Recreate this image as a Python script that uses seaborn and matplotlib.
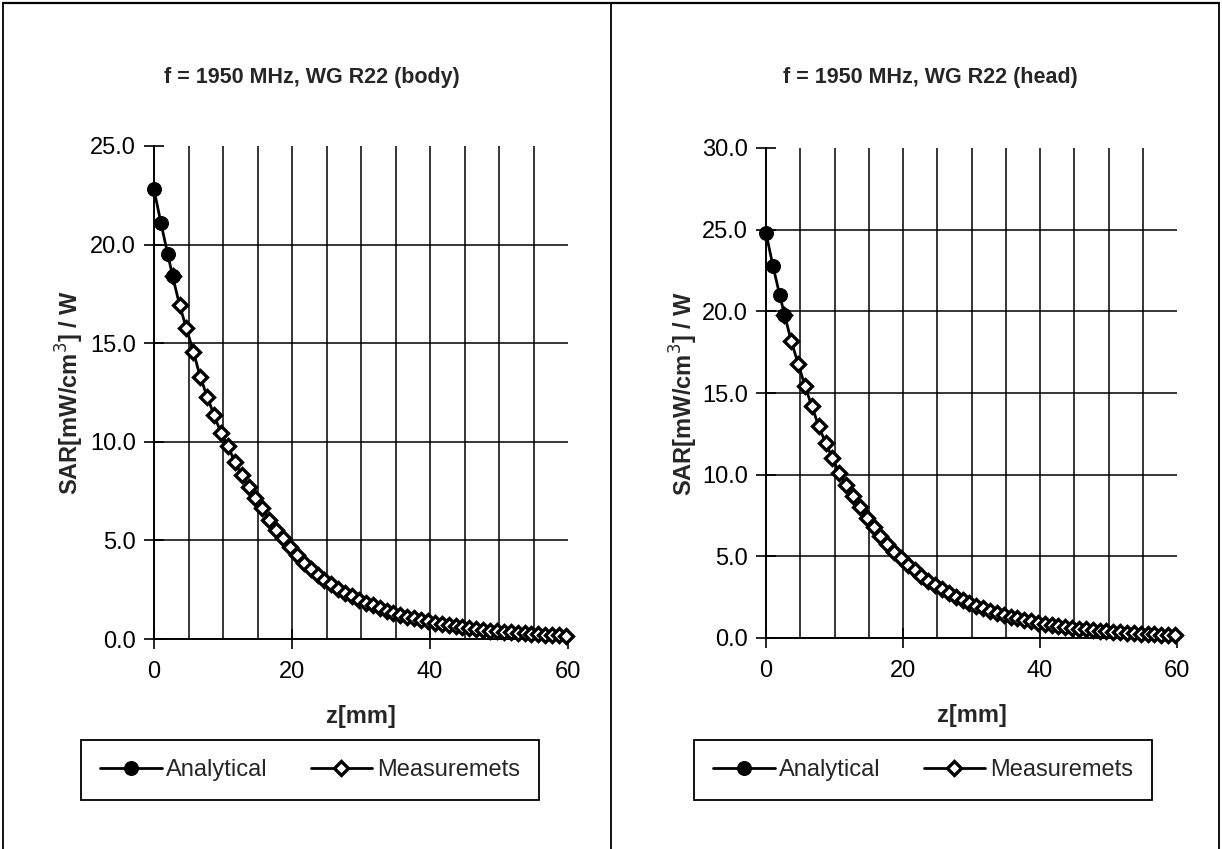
import numpy as np
import matplotlib
matplotlib.use("Agg")
import matplotlib.pyplot as plt
from matplotlib.lines import Line2D
from matplotlib.ticker import FixedLocator, FormatStrFormatter
import seaborn as sns

# analytical points (only the first few are visible, the rest sits under the measurements)
z_analytical = [0, 1, 2, 2.7]
body_analytical = [22.8, 21.1, 19.5, 18.4]
head_analytical = [24.8, 22.8, 21.0, 19.8]

# measured points, 1 mm steps from 2.7 mm to 59.7 mm
z_meas = np.arange(2.7, 60, 1.0)
body_meas = [18.4, 16.94, 15.75, 14.57, 13.30, 12.29, 11.36, 10.46, 9.79, 8.99,
             8.32, 7.72, 7.13, 6.63, 6.03, 5.53, 5.10, 4.68, 4.26, 3.87,
             3.53, 3.25, 3.00, 2.77, 2.55, 2.35, 2.17, 2.00, 1.84, 1.70,
             1.57, 1.44, 1.33, 1.23, 1.13, 1.04, 0.96, 0.89, 0.82, 0.75,
             0.69, 0.64, 0.59, 0.54, 0.50, 0.46, 0.43, 0.39, 0.36, 0.33,
             0.31, 0.28, 0.26, 0.24, 0.22, 0.20, 0.19, 0.17]
head_meas = [19.8, 18.16, 16.78, 15.41, 14.18, 12.96, 11.94, 11.02, 10.10, 9.39,
             8.67, 7.99, 7.36, 6.78, 6.24, 5.75, 5.29, 4.88, 4.49, 4.14,
             3.81, 3.51, 3.23, 2.98, 2.74, 2.53, 2.33, 2.14, 1.97, 1.82,
             1.67, 1.54, 1.42, 1.31, 1.20, 1.11, 1.02, 0.94, 0.87, 0.80,
             0.73, 0.68, 0.62, 0.57, 0.53, 0.49, 0.45, 0.41, 0.38, 0.35,
             0.32, 0.30, 0.27, 0.25, 0.23, 0.21, 0.20, 0.18]

titles = ["f = 1950 MHz, WG R22 (body)", "f = 1950 MHz, WG R22 (head)"]
y_tops = [25, 30]

sns.set_style("white")
plt.rcParams["font.family"] = ["Liberation Sans", "DejaVu Sans"]

W, H = 1222, 849
fig = plt.figure(figsize=(W / 100, H / 100), dpi=100)

# axes boxes in pixels: left, right, top, bottom
boxes = [(154, 568, 146, 639), (766, 1177, 148, 638)]
title_x = [312, 930]
ylabel_x = [70, 684]
legend_x = [310, 923]

panels = [(body_analytical, body_meas), (head_analytical, head_meas)]

for i, (ana, meas) in enumerate(panels):
    l, r, t, b = boxes[i]
    ax = fig.add_axes([l / W, 1 - b / H, (r - l) / W, (b - t) / H])

    sns.lineplot(x=z_meas, y=meas, ax=ax, color="black", lw=2.0,
                 marker="D", markersize=7.5, markerfacecolor="white",
                 markeredgecolor="black", markeredgewidth=2.4,
                 label="Measuremets", zorder=3, clip_on=False)
    sns.lineplot(x=z_analytical, y=ana, ax=ax, color="black", lw=2.0,
                 marker="o", markersize=10, markerfacecolor="black",
                 markeredgecolor="black", label="Analytical", zorder=4,
                 clip_on=False)

    ax.set_xlim(0, 60)
    ax.set_ylim(0, y_tops[i])
    ax.xaxis.set_major_locator(FixedLocator([0, 20, 40, 60]))
    ax.xaxis.set_minor_locator(FixedLocator(list(range(5, 60, 5))))
    ax.xaxis.remove_overlapping_locs = False
    ax.yaxis.set_major_locator(FixedLocator(list(range(0, y_tops[i] + 1, 5))))
    ax.yaxis.set_major_formatter(FormatStrFormatter("%.1f"))

    ax.grid(False)
    ax.grid(True, which="minor", axis="x", color="black", lw=1.1)
    ax.grid(True, which="major", axis="y", color="black", lw=1.1)
    ax.yaxis.get_gridlines()[-1].set_visible(False)

    ax.tick_params(axis="x", which="major", direction="inout", length=14, width=1.2,
                   labelsize=17, pad=9, colors="black", bottom=True)
    ax.tick_params(axis="x", which="minor", length=0)
    ax.tick_params(axis="y", which="major", direction="inout", length=14, width=1.2,
                   labelsize=17, pad=6, colors="black", left=True)

    for side in ["top", "right"]:
        ax.spines[side].set_visible(False)
    for side in ["left", "bottom"]:
        ax.spines[side].set_color("black")
        ax.spines[side].set_linewidth(1.4)

    ax.set_xlabel("z[mm]", fontsize=17, fontweight="bold", labelpad=16)
    ax.set_ylabel("")
    fig.text(ylabel_x[i] / W, 1 - (t + b) / 2 / H, "SAR[mW/cm$^3$] / W",
             rotation=90, ha="center", va="center", fontsize=17, fontweight="bold")
    fig.text(title_x[i] / W, 1 - 78 / H, titles[i], ha="center", va="center",
             fontsize=15.5, fontweight="bold")

    handles, labels = ax.get_legend_handles_labels()
    order = [labels.index("Analytical"), labels.index("Measuremets")]
    leg = ax.legend([handles[k] for k in order], [labels[k] for k in order],
                    loc="center", bbox_to_anchor=(legend_x[i] / W, 1 - 770 / H),
                    bbox_transform=fig.transFigure, ncol=2, fontsize=17,
                    frameon=True, fancybox=False, shadow=False, framealpha=1,
                    edgecolor="black", handlelength=2.6, handletextpad=0.2,
                    columnspacing=1.8, borderpad=0.8)
    leg.get_frame().set_linewidth(1.3)

# panel frames
for x in [3, 611, 1219]:
    fig.add_artist(Line2D([x / W, x / W], [0, 1 - 3 / H], color="black", lw=1.3))
fig.add_artist(Line2D([3 / W, 1219 / W], [1 - 3 / H, 1 - 3 / H], color="black", lw=1.6))

fig.savefig("out.png", dpi=100, facecolor="white")
